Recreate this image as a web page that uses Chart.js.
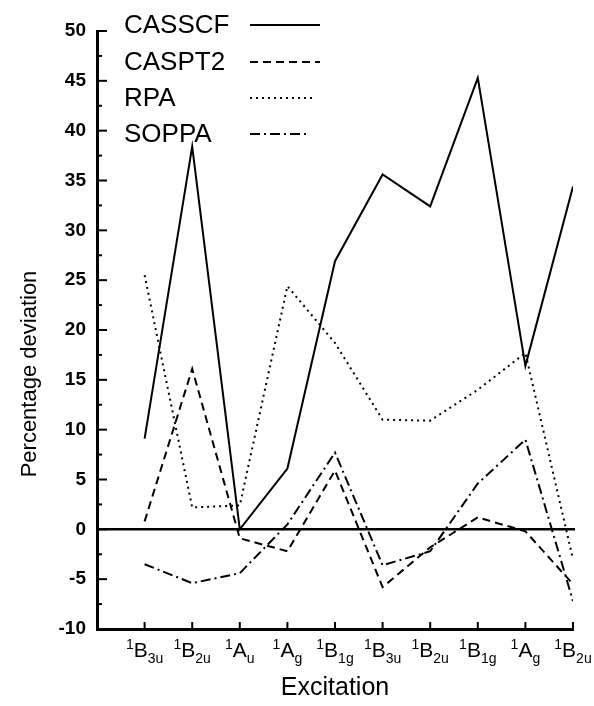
<!DOCTYPE html>
<html>
<head>
<meta charset="utf-8">
<script src="https://cdn.jsdelivr.net/npm/chart.js@4.4.1/dist/chart.umd.min.js"></script>
<style>
  html, body { margin: 0; padding: 0; background: #fff; }
  #wrap { width: 594px; height: 706px; }
</style>
</head>
<body>
<div id="wrap"><canvas id="devChart" width="594" height="706"></canvas></div>
<script>
// excitation labels: [superscript, main letter, subscript]
var excitations = [
    ['1', 'B', '3u'], ['1', 'B', '2u'], ['1', 'A', 'u'], ['1', 'A', 'g'], ['1', 'B', '1g'],
    ['1', 'B', '3u'], ['1', 'B', '2u'], ['1', 'B', '1g'], ['1', 'A', 'g'], ['1', 'B', '2u']
];
var casscf = [9.1, 38.4, 0.0, 6.1, 26.9, 35.6, 32.4, 45.3, 16.4, 34.4];
var caspt2 = [0.8, 16.1, -0.9, -2.2, 5.9, -5.8, -1.8, 1.2, -0.2, -5.5];
var rpa    = [25.5, 2.2, 2.4, 24.4, 18.7, 11.0, 10.9, 14.0, 17.7, -3.0];
var soppa  = [-3.5, -5.4, -4.4, 0.5, 7.7, -3.6, -2.2, 4.6, 9.0, -7.2];
var yTicks = [-10, -5, 0, 5, 10, 15, 20, 25, 30, 35, 40, 45, 50];

var FONT = '"Liberation Sans", Arial, Helvetica, sans-serif';

function toPoints(arr) {
    return arr.map(function(v, i) { return { x: i + 1, y: v }; });
}

function series(label, values, dash) {
    return {
        label: label,
        data: toPoints(values),
        borderColor: '#000',
        borderWidth: 2,
        borderDash: dash,
        pointRadius: 0,
        tension: 0,
        fill: false
    };
}

var extras = {
    id: 'extras',
    afterDraw: function(chart) {
        var ctx = chart.ctx;
        var xs = chart.scales.x, ys = chart.scales.y;
        var area = chart.chartArea;
        ctx.save();
        ctx.strokeStyle = '#000';
        ctx.fillStyle = '#000';

        // zero line
        ctx.lineWidth = 2.5;
        ctx.beginPath();
        ctx.moveTo(area.left, ys.getPixelForValue(0));
        ctx.lineTo(area.right + 2, ys.getPixelForValue(0));
        ctx.stroke();

        // y ticks pointing inward, minor ones shorter
        ctx.lineWidth = 2;
        for (var v = ys.min; v <= ys.max; v += 2.5) {
            var py = ys.getPixelForValue(v);
            var len = (v % 5 === 0) ? 10 : 5;
            ctx.beginPath();
            ctx.moveTo(area.left, py);
            ctx.lineTo(area.left + len, py);
            ctx.stroke();
        }

        // x ticks pointing upward + rich labels
        excitations.forEach(function(lab, i) {
            var px = xs.getPixelForValue(i + 1);
            ctx.beginPath();
            ctx.moveTo(px, area.bottom);
            ctx.lineTo(px, area.bottom - 7);
            ctx.stroke();

            var bigFont = '21px ' + FONT, smallFont = '14px ' + FONT;
            ctx.font = smallFont;
            var wSup = ctx.measureText(lab[0]).width;
            var wSub = ctx.measureText(lab[2]).width;
            ctx.font = bigFont;
            var wMain = ctx.measureText(lab[1]).width;
            var x0 = px - (wSup + wMain + wSub) / 2;
            var base = 657;
            ctx.textAlign = 'left';
            ctx.textBaseline = 'alphabetic';
            ctx.font = smallFont;
            ctx.fillText(lab[0], x0, base - 8);
            ctx.font = bigFont;
            ctx.fillText(lab[1], x0 + wSup, base);
            ctx.font = smallFont;
            ctx.fillText(lab[2], x0 + wSup + wMain, base + 6);
        });

        // y axis title
        ctx.save();
        ctx.translate(30, 374);
        ctx.rotate(-Math.PI / 2);
        ctx.font = '22px ' + FONT;
        ctx.textAlign = 'center';
        ctx.textBaseline = 'middle';
        ctx.fillText('Percentage deviation', 0, 0);
        ctx.restore();

        // legend: label then line sample
        var rows = [25, 62, 98, 134];
        var lens = [70, 70, 64, 60];
        chart.data.datasets.forEach(function(ds, i) {
            var y = rows[i];
            ctx.font = '26px ' + FONT;
            ctx.textAlign = 'left';
            ctx.textBaseline = 'middle';
            ctx.fillText(ds.label, 124, y + 1);
            ctx.lineWidth = 2;
            ctx.setLineDash(ds.borderDash || []);
            ctx.beginPath();
            ctx.moveTo(250, y);
            ctx.lineTo(250 + lens[i], y);
            ctx.stroke();
            ctx.setLineDash([]);
        });
        ctx.restore();
    }
};

new Chart(document.getElementById('devChart'), {
    type: 'line',
    data: {
        datasets: [
            series('CASSCF', casscf, []),
            series('CASPT2', caspt2, [8, 5]),
            series('RPA', rpa, [2, 4]),
            series('SOPPA', soppa, [10, 4, 2, 4])
        ]
    },
    options: {
        responsive: false,
        animation: false,
        layout: { padding: { top: 31, right: 21, left: 0, bottom: 0 } },
        plugins: {
            legend: { display: false },
            tooltip: { enabled: false }
        },
        scales: {
            x: {
                type: 'linear',
                min: 0,
                max: excitations.length,
                grid: { display: false, drawTicks: false },
                border: { display: true, color: '#000', width: 3 },
                ticks: { display: false },
                title: {
                    display: true,
                    text: 'Excitation',
                    color: '#000',
                    font: { family: FONT, size: 25 },
                    padding: { top: 0, bottom: 3 }
                },
                afterFit: function(s) { s.height = 77; }
            },
            y: {
                min: -10,
                max: 50,
                afterBuildTicks: function(s) {
                    s.ticks = yTicks.map(function(v) { return { value: v }; });
                },
                grid: { display: false, drawTicks: false },
                border: { display: true, color: '#000', width: 3 },
                ticks: {
                    color: '#000',
                    padding: 11,
                    font: { family: FONT, size: 19, weight: 'bold' }
                },
                afterFit: function(s) { s.width = 97; }
            }
        }
    },
    plugins: [extras]
});
</script>
</body>
</html>
